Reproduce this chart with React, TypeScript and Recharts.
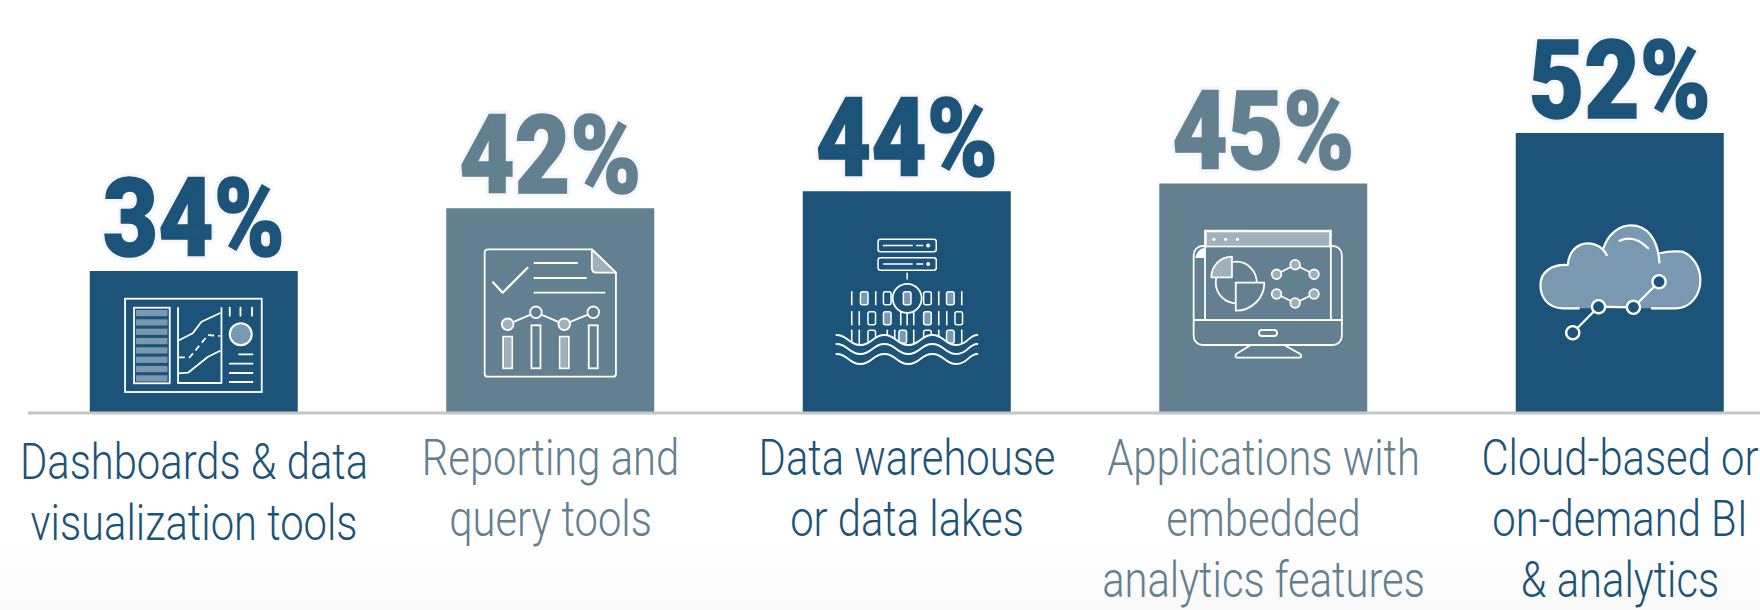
import React from 'react';
import { BarChart, Bar, XAxis, YAxis, LabelList, Rectangle } from 'recharts';

const DARK = '#1c5378';
const SLATE = '#62808f';
const DARK_TINT = '#7a98b0';
const SLATE_TINT = '#a0b1b9';

const categories = ['Dashboards', 'Reporting', 'Warehouse', 'Embedded', 'Cloud'];
const tickLines = [
  ['Dashboards & data', 'visualization tools'],
  ['Reporting and', 'query tools'],
  ['Data warehouse', 'or data lakes'],
  ['Applications with', 'embedded', 'analytics features'],
  ['Cloud-based or', 'on-demand BI', '& analytics'],
];
// bar lengths, the printed labels are these rounded
const shares = [34, 42.2, 44.4, 45.4, 52];
const barColors = [DARK, SLATE, DARK, SLATE, DARK];

const chartData = categories.map((name, i) => ({ name, share: shares[i] }));

const line = { fill: 'none', stroke: '#fff', strokeWidth: 1.8, strokeLinecap: 'round', strokeLinejoin: 'round' } as const;

// icons are drawn around the bottom centre of their bar
const DashboardIcon = () => (
  <g>
    <rect x={-68.7} y={-113.3} width={136.7} height={93.3} {...line} strokeLinecap="butt" strokeLinejoin="miter" />
    <rect x={-59.7} y={-104.3} width={35.7} height={75.6} {...line} strokeLinejoin="miter" />
    {[0, 1, 2, 3, 4, 5, 6, 7].map((r) => (
      <rect key={r} x={-57.7} y={-102 + r * 9.33} width={31.4} height={6.2} fill={DARK_TINT} />
    ))}
    <path d="M-15.7,-104 V-29 H27.7 V-104" {...line} />
    <path d="M-15.7,-71.3 L-1,-78.7 L7.7,-90.3 L26,-98.7" {...line} />
    <path d="M-15,-54.7 L-4,-54.7 L14.3,-77 L26,-76" {...line} strokeDasharray="6 4" strokeLinecap="butt" />
    <path d="M-15,-38.7 L-5.7,-39.3 L14.3,-55.3 L26,-61" {...line} />
    <path d="M36,-104.3 V-96.3 M46.7,-104.3 V-96.3 M58.3,-104.3 V-96.3" {...line} />
    <circle cx={47} cy={-77.7} r={11} fill={DARK_TINT} stroke="#fff" strokeWidth={2} />
    <path d="M45.3,-57.7 H58.7 M36,-48.3 H58.7 M36,-39 H58.7 M36,-30 H58.7" {...line} />
  </g>
);

const ReportIcon = () => {
  const px = [-42.6, -14.3, 14, 43];
  const py = [-87.7, -99.7, -87.7, -99.7];
  const tops = [-75.3, -86.7, -75.3, -86.7];
  return (
    <g>
      <path d="M-62,-162.7 H41.6 L65.7,-139.3 V-38.3 Q65.7,-35.3 62.7,-35.3 H-62.6 Q-65.6,-35.3 -65.6,-38.3 V-159.7 Q-65.6,-162.7 -62,-162.7 Z" {...line} />
      <path d="M41.6,-162.7 V-144 Q41.6,-139.3 46,-139.3 H65.7 Z" fill={SLATE_TINT} stroke="#fff" strokeWidth={1.8} strokeLinejoin="round" />
      <path d="M-57.2,-129.7 L-47.6,-119.3 L-22.7,-144.3" {...line} strokeWidth={2.2} />
      <path d="M-15.8,-149 H27 M-15.8,-134 H35.8 M-15.8,-119.3 H54.2" {...line} />
      <polyline points={px.map((x, i) => `${x},${py[i]}`).join(' ')} {...line} />
      {px.map((x, i) => (
        <g key={x}>
          <rect x={x - 4.5} y={tops[i]} width={9} height={-43.7 - tops[i]} fill={SLATE} stroke="#fff" strokeWidth={1.8} />
          {i % 2 === 0 && <rect x={x - 3.5} y={-74} width={7} height={29} fill={SLATE_TINT} />}
          <circle cx={x} cy={py[i]} r={5.8} fill={i % 2 === 0 ? SLATE_TINT : SLATE} stroke="#fff" strokeWidth={1.8} />
        </g>
      ))}
    </g>
  );
};

const Bit = ({ u, v, kind }: { u: number; v: number; kind: string }) =>
  kind === '1' ? (
    <path d={`M${u},${v - 6.5} V${v + 6.5}`} {...line} strokeWidth={1.6} />
  ) : (
    <rect x={u - 3.8} y={v - 6.5} width={7.6} height={13} rx={2} fill={kind === 'f' ? DARK_TINT : 'none'} stroke="#fff" strokeWidth={1.5} />
  );

const bitRows: [number, [number, string][]][] = [
  [-113.7, [[-55, '1'], [-42.5, 'f'], [-31, '1'], [-19.5, '0'], [20.7, '0'], [32, '1'], [43.6, 'f'], [55, '1']]],
  [-93.7, [[-55, '1'], [-47.5, '1'], [-35, '0'], [-19.5, 'f'], [-6, '1'], [0.4, '1'], [7, '1'], [20.7, 'f'], [32, '1'], [40, '1'], [52, '0']]],
  [-75.3, [[-55, '1'], [-47.5, '1'], [-35, '0'], [-19.5, '1'], [-12, '1'], [-4, 'f'], [7, '1'], [20.7, '0'], [32, '1'], [43.6, 'f'], [55, '1']]],
];
const WAVE = 'c12,0 12,10 24,10 s12,-10 24,-10 s12,10 24,10 s12,-10 24,-10 s12,10 24,10 s12,-10 21,-10';

const LakeIcon = () => (
  <g>
    {[-172.7, -154.3].map((v) => (
      <g key={v}>
        <rect x={-28.7} y={v} width={58.2} height={12.5} rx={2.5} {...line} strokeWidth={1.5} />
        <path d={`M-23.3,${v + 6.2} H5.4 M10,${v + 6.2} H16`} {...line} strokeWidth={1.5} />
        <circle cx={21.4} cy={v + 6.2} r={2} fill="#fff" />
      </g>
    ))}
    <path d="M0.4,-138.7 V-133" {...line} strokeWidth={1.5} />
    {bitRows.map(([v, bits]) => bits.map(([u, kind]) => <Bit key={`${v}-${u}`} u={u} v={v} kind={kind} />))}
    <circle cx={0.4} cy={-113.7} r={14.5} fill={DARK} stroke="#fff" strokeWidth={1.8} />
    <Bit u={0.4} v={-113.7} kind="f" />
    <path d={`M-70.4,-77 ${WAVE} V-50 H-70.4 Z`} fill={DARK} />
    {[-77, -68, -58].map((v) => (
      <path key={v} d={`M-70.4,${v} ${WAVE}`} {...line} />
    ))}
  </g>
);

const MonitorIcon = () => {
  const netX = [13.3, 31.9, 50.8];
  const upper = [-137.7, -147.3, -137.7];
  const lower = [-118, -109, -118];
  return (
    <g>
      <rect x={-69.6} y={-166} width={148.2} height={99} rx={9} {...line} />
      <path d="M-69.6,-92 H78.6" {...line} />
      <rect x={-58.2} y={-181.3} width={125.8} height={89.3} fill={SLATE} stroke="#fff" strokeWidth={1.8} />
      <rect x={-57.4} y={-180.5} width={124.2} height={15} fill={SLATE_TINT} stroke="#fff" strokeWidth={1.6} />
      {[-49.4, -37.6, -25.8].map((u) => (
        <circle key={u} cx={u} cy={-172.7} r={1.6} fill="#fff" />
      ))}
      <path d="M-59,-164 Q-66,-163 -68,-154 H-59 Z" fill="#fff" />
      <ellipse cx={-27} cy={-129.5} rx={20.5} ry={20.8} {...line} />
      <path d="M-31.3,-134.7 V-155.4 A20.6,20.6 0 0 0 -51.9,-134.7 Z" fill={SLATE_TINT} stroke="#fff" strokeWidth={1.8} strokeLinejoin="round" />
      <path d="M-27.5,-129.3 H1.1 A28.6,28 0 0 1 -27.5,-101.3 Z" fill={SLATE} stroke="#fff" strokeWidth={1.8} strokeLinejoin="round" />
      {[upper, lower].map((ys) => (
        <g key={ys[0]}>
          <polyline points={netX.map((x, i) => `${x},${ys[i]}`).join(' ')} {...line} />
          {netX.map((x, i) => (
            <circle key={x} cx={x} cy={ys[i]} r={4.8} fill={SLATE_TINT} stroke="#fff" strokeWidth={1.8} />
          ))}
        </g>
      ))}
      <rect x={-4.3} y={-82} width={18.1} height={6} rx={3} {...line} />
      <path d="M-13.6,-66.3 L-27,-58 Q-29,-54.3 -26,-54.3 H36 Q39,-54.3 37,-58 L22.2,-66.3" {...line} />
    </g>
  );
};

const CloudIcon = () => {
  const nx = [-47, -21.2, 13.7, 39.3];
  const ny = [-79.3, -105.3, -104.7, -130.3];
  return (
    <g>
      <path
        d="M-57,-103.7 C-72,-103.7 -79.3,-115 -79.3,-127 C-79.3,-140 -68,-148 -52,-147 C-51,-160 -43,-168.7 -31.8,-168.7 C-26,-168.7 -20,-166 -16.2,-163.7 C-12,-178 0,-186.7 11.1,-186.7 C27,-186.7 38,-174 39.8,-158.7 C48,-160.3 56,-161 62.9,-160.3 C72,-157 80.6,-146 80.6,-132 C80.6,-116 70,-103.7 56.6,-103.7 Z"
        fill={DARK_TINT}
      />
      <path
        d="M-40.2,-103.7 H-57 C-72,-103.7 -79.3,-115 -79.3,-127 C-79.3,-140 -68,-148 -52,-147 C-51,-160 -43,-168.7 -31.8,-168.7 C-23,-168.7 -15,-163 -12.8,-156 M-16.2,-163.7 C-12,-178 0,-186.7 11.1,-186.7 C27,-186.7 38,-174 39.8,-148.7 M39.8,-158.7 C48,-161 56,-161 62.9,-160.3 C72,-157 80.6,-146 80.6,-132 C80.6,-116 70,-103.7 56.6,-103.7 H31.3"
        {...line}
        strokeWidth={2.2}
        strokeLinecap="butt"
      />
      <path d="M-0.2,-171.3 Q14.5,-178 28.4,-163.7" {...line} strokeWidth={2.2} />
      <polyline points={nx.map((x, i) => `${x},${ny[i]}`).join(' ')} {...line} strokeWidth={2.2} />
      {nx.map((x, i) => (
        <circle key={x} cx={x} cy={ny[i]} r={6.6} fill={DARK} stroke="#fff" strokeWidth={2.4} />
      ))}
    </g>
  );
};

const icons = [DashboardIcon, ReportIcon, LakeIcon, MonitorIcon, CloudIcon];

const IconBar = (props: any) => {
  const { x, y, width, height, index } = props;
  const Icon = icons[index];
  return (
    <g>
      <Rectangle x={x} y={y} width={width} height={height} fill={barColors[index]} />
      <g transform={`translate(${x + width / 2},${y + height - 1})`}>
        <Icon />
      </g>
    </g>
  );
};

const ShareLabel = (props: any) => {
  const { x, y, width, value, index } = props;
  const color = barColors[index];
  const text = `${Math.round(value)}%`;
  const common = {
    transform: `translate(${x + width / 2},${y - 15}) scale(0.87,1)`,
    textAnchor: 'middle',
    fontFamily: 'Roboto, sans-serif',
    fontWeight: 900,
    fontSize: 110,
  } as const;
  return (
    <g>
      <text {...common} fill="#f6f6f8" stroke="#f6f6f8" strokeWidth={8} strokeLinejoin="round">
        {text}
      </text>
      <text {...common} fill={color} stroke={color} strokeWidth={1.5}>
        {text}
      </text>
    </g>
  );
};

const WrappedTick = (props: any) => {
  const { x, index } = props;
  return (
    <g>
      {tickLines[index].map((t, i) => (
        <text
          key={t}
          transform={`translate(${x},${(index === 0 ? 479 : 475) + i * 61}) scale(0.835,1)`}
          textAnchor="middle"
          fontFamily="Roboto, sans-serif"
          fontWeight={300}
          fontSize={50}
          fill={barColors[index]}
        >
          {t}
        </text>
      ))}
    </g>
  );
};

export default function App() {
  return (
    <div
      style={{
        position: 'absolute',
        left: 0,
        top: 0,
        width: 1760,
        height: 610,
        background: 'linear-gradient(#fff 0, #fff 535px, #fafafa 600px, #fafafa 610px)',
      }}
    >
      <BarChart width={1760} height={610} data={chartData} margin={{ top: 0, right: 0, bottom: 0, left: 28 }} barSize={208}>
        <YAxis hide domain={[15.48, 69.35]} />
        <XAxis
          dataKey="name"
          height={197}
          scale="point"
          padding={{ left: 166, right: 140 }}
          interval={0}
          tickLine={false}
          axisLine={{ stroke: '#c6c6c6', strokeWidth: 3 }}
          tick={<WrappedTick />}
        />
        <Bar dataKey="share" isAnimationActive={false} shape={<IconBar />}>
          <LabelList dataKey="share" content={<ShareLabel />} />
        </Bar>
      </BarChart>
    </div>
  );
}
